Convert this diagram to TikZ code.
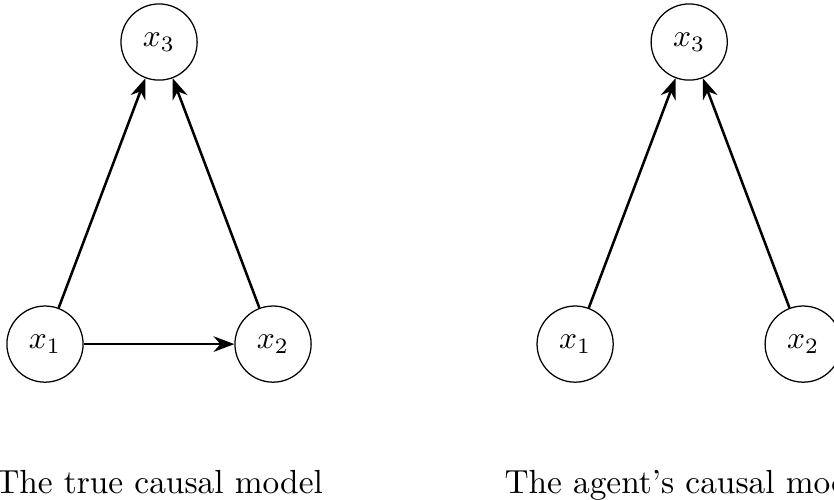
\documentclass[tikz,border=0pt]{standalone}
\usepackage{tikz}
\usetikzlibrary{arrows.meta,positioning}

\begin{document}
\begin{tikzpicture}[
		>=Stealth,
		var/.style={draw, circle, thin, minimum size=8.5mm, inner sep=0pt},
		edge/.style={->, thick},
		caption/.style={anchor=base, font=\fontsize{10.6}{13}\selectfont}
		]
		\useasboundingbox (0,0) rectangle (9.307,-5.569);
		
		% true model
		\node[var] (ta) at (0.502,-3.840) {$x_1$};
		\node[var] (tb) at (3.047,-3.840) {$x_2$};
		\node[var] (tc) at (1.775,-0.469) {$x_3$};
		\node[caption] (tcap) at (1.775,-5.502) {The true causal model};
		
		\draw[edge] (ta) -- (tc);
		\draw[edge] (tb) -- (tc);
		\draw[edge] (ta) -- (tb);
		
		% agent's model
		\node[var] (aa) at (6.418,-3.840) {$x_1$};
		\node[var] (ab) at (8.963,-3.840) {$x_2$};
		\node[var] (ac) at (7.691,-0.469) {$x_3$};
		\node[caption] (acap) at (7.691,-5.502) {The agent's causal model};
		
		\draw[edge] (aa) -- (ac);
		\draw[edge] (ab) -- (ac);
	\end{tikzpicture}
\end{document}
